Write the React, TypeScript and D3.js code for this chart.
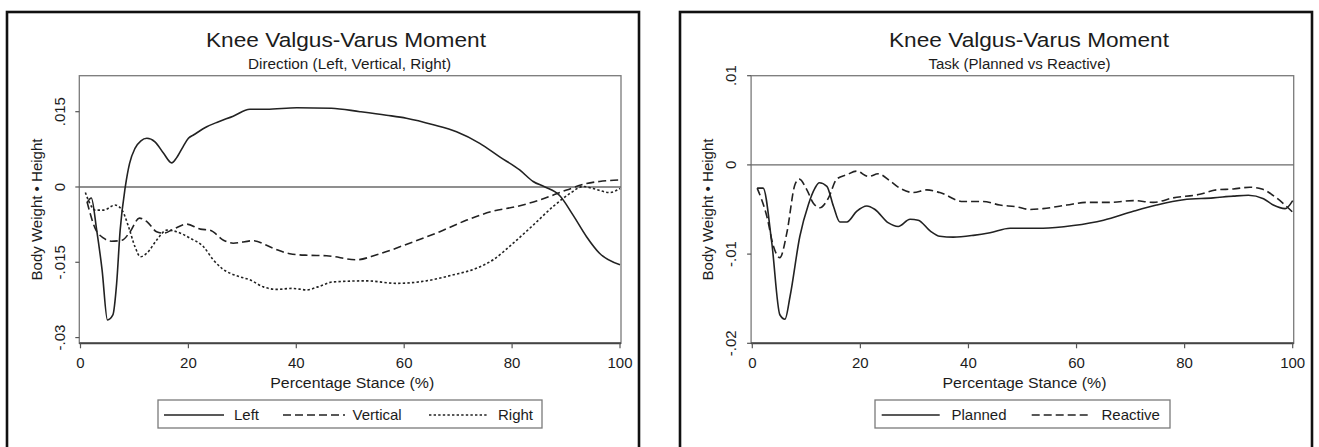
import React from 'react';
import * as d3 from 'd3';

// ---------- data ----------
const xTicks = [0, 20, 40, 60, 80, 100];

const dirYTicks = [0.015, 0, -0.015, -0.03];
const dirYTickLabels = ['.015', '0', '-.015', '-.03'];
const taskYTicks = [0.01, 0, -0.01, -0.02];
const taskYTickLabels = ['.01', '0', '-.01', '-.02'];

const dirSeriesNames = ['Left', 'Vertical', 'Right'];
const taskSeriesNames = ['Planned', 'Reactive'];

const leftX = [1.3, 2, 3, 4, 5, 6, 6.7, 7.35, 8.3, 9.1, 10.1, 11.2, 12.3, 13.8, 15.4, 16.9, 17.8, 19, 20, 21, 23.4, 25.6, 28.3, 31.4, 34.5, 40.1, 46.5, 51.8, 56.7, 60.4, 65.4, 69.7, 74, 77.7, 81.4, 83.9, 86.1, 88.8, 91.3, 93.8, 96.2, 100];
const leftY = [-0.003, -0.0022, -0.0086, -0.0165, -0.0265, -0.0255, -0.0192, -0.0086, 0.0, 0.0047, 0.0077, 0.0092, 0.0097, 0.009, 0.0067, 0.0048, 0.0058, 0.008, 0.0097, 0.0104, 0.012, 0.013, 0.0141, 0.0155, 0.0155, 0.0158, 0.0157, 0.015, 0.0143, 0.0137, 0.0124, 0.011, 0.0087, 0.006, 0.0034, 0.0011, 0.0, -0.0017, -0.0056, -0.0099, -0.0132, -0.0155];

const verticalX = [1.2, 2.7, 4.3, 5.7, 7.7, 9.2, 10.9, 12.3, 14.1, 15.4, 17.2, 19.7, 22.2, 24, 26.5, 28.3, 32, 35.7, 38.8, 42, 45.6, 51.2, 54.9, 61, 66.6, 71.6, 76.5, 80.8, 85.1, 90.1, 93.8, 96.2, 100];
const verticalY = [-0.0029, -0.0082, -0.0102, -0.0108, -0.0106, -0.0089, -0.0062, -0.0069, -0.0089, -0.0092, -0.0084, -0.0074, -0.0084, -0.0086, -0.0106, -0.0112, -0.0107, -0.0122, -0.0133, -0.0136, -0.0137, -0.0145, -0.0135, -0.0112, -0.0089, -0.0066, -0.0048, -0.0039, -0.0026, -0.0006, 0.0007, 0.0011, 0.0014];

const rightX = [0.9, 1.7, 2.7, 4.3, 6.4, 7.7, 8.9, 10.1, 11.1, 12.3, 14.1, 16, 17.8, 20.3, 22.8, 24.6, 26.2, 29.6, 31.4, 33.9, 36.4, 39.2, 42, 44, 46.9, 53, 58.6, 64.1, 69.1, 73.4, 76.5, 80.2, 83.9, 87.6, 90.7, 93.2, 95, 98.1, 100];
const rightY = [-0.0011, -0.0032, -0.0046, -0.0046, -0.0036, -0.0046, -0.0079, -0.0119, -0.0139, -0.0132, -0.0106, -0.0086, -0.0089, -0.0102, -0.0119, -0.0145, -0.0162, -0.0179, -0.0185, -0.0199, -0.0204, -0.0202, -0.0205, -0.0199, -0.0189, -0.0187, -0.0192, -0.0187, -0.0175, -0.0162, -0.0145, -0.0112, -0.0076, -0.0039, -0.0013, 0.0001, -0.0003, -0.0011, -0.0003];

const plannedX = [0.9, 2, 3.6, 5.1, 6.05, 7, 8.8, 10.4, 11.6, 12.4, 13.8, 15, 16.2, 17.5, 19.3, 21.2, 22.7, 25.2, 27, 29.2, 30.7, 32.9, 34.7, 37.2, 40.9, 44, 47.7, 53.8, 59.4, 65, 70.5, 74.8, 79.8, 85.3, 89, 91.8, 94.6, 96.4, 98.6, 100];
const plannedY = [-0.0026, -0.0026, -0.0087, -0.0168, -0.0173, -0.0147, -0.008, -0.0044, -0.0026, -0.002, -0.0024, -0.0046, -0.0064, -0.0064, -0.0052, -0.0046, -0.005, -0.0065, -0.0069, -0.0061, -0.0062, -0.0074, -0.008, -0.0081, -0.0079, -0.0076, -0.0071, -0.0071, -0.0068, -0.0062, -0.0052, -0.0045, -0.0039, -0.0037, -0.0035, -0.0034, -0.0038, -0.0045, -0.0049, -0.004];

const reactiveX = [0.9, 2.7, 3.9, 5.1, 6.4, 7.9, 8.7, 10.1, 11.3, 12.5, 14.1, 15.6, 17.5, 19.3, 21.5, 23.3, 25.5, 27.3, 29.8, 32.3, 34.7, 39, 42.7, 45.8, 48.9, 51.4, 53.8, 58.2, 61.9, 66.2, 70.5, 74.2, 77.9, 82.8, 85.9, 89, 92.1, 94.3, 97, 100];
const reactiveY = [-0.0026, -0.0058, -0.0091, -0.0104, -0.0076, -0.0022, -0.0016, -0.0028, -0.0043, -0.0048, -0.0037, -0.0016, -0.0011, -0.0007, -0.0013, -0.001, -0.0018, -0.0026, -0.0031, -0.0028, -0.0031, -0.0041, -0.0041, -0.0045, -0.0047, -0.005, -0.0049, -0.0045, -0.0042, -0.0042, -0.004, -0.0042, -0.0037, -0.0033, -0.0028, -0.0027, -0.0025, -0.0027, -0.0037, -0.0053];

// ---------- styles ----------
const FONT = '"Liberation Sans", Arial, Helvetica, sans-serif';
const INK = '#1c1c1c';
const LINE = '#222';
const FRAME = '#7a7a7a';
const DASHES = ['none', '8,4', '2.4,2.2'];

type Series = { name: string; xs: number[]; ys: number[]; dash: string };

type PanelCfg = {
  bx: number; bw: number;
  x0: number; x1: number;
  yTop: number; yBot: number;
  yDomain: [number, number];
  yTicks: number[]; yTickLabels: string[];
  title: string; titleX: number;
  subtitle: string; subtitleX: number; subtitleW: number;
  series: Series[];
  legend: { boxX: number; boxW: number; items: { lineX: number; lineW: number; textX: number }[] };
};

const Panel: React.FC<{ cfg: PanelCfg }> = ({ cfg }) => {
  const xs = d3.scaleLinear().domain([0, 100]).range([cfg.x0, cfg.x1]);
  const ys = d3.scaleLinear().domain(cfg.yDomain).range([cfg.yBot, cfg.yTop]);
  const line = d3
    .line<[number, number]>()
    .x((d) => xs(d[0]))
    .y((d) => ys(d[1]))
    .curve(d3.curveMonotoneX);
  const fx0 = cfg.x0 - 1.2;
  const fx1 = cfg.x1 + 1;
  const midX = (cfg.x0 + cfg.x1) / 2;
  const midY = (cfg.yTop + cfg.yBot) / 2;
  return (
    <g>
      {/* outer border */}
      <rect x={cfg.bx} y={12} width={cfg.bw} height={470} fill="#fff" stroke="#111" strokeWidth={2.6} />
      {/* titles */}
      <text x={cfg.titleX} y={46.5} textAnchor="middle" fontSize={20.5} fill={INK} fontFamily={FONT} textLength={280} lengthAdjust="spacingAndGlyphs">
        {cfg.title}
      </text>
      <text x={cfg.subtitleX} y={69} textAnchor="middle" fontSize={14} fill={INK} fontFamily={FONT} textLength={cfg.subtitleW} lengthAdjust="spacingAndGlyphs">
        {cfg.subtitle}
      </text>
      {/* plot frame */}
      <rect x={fx0} y={cfg.yTop} width={fx1 - fx0} height={cfg.yBot - cfg.yTop} fill="none" stroke={FRAME} strokeWidth={1.3} />
      <line x1={fx0} x2={fx1} y1={cfg.yBot} y2={cfg.yBot} stroke="#444" strokeWidth={2} />
      {/* zero line */}
      <line x1={fx0} x2={fx1} y1={ys(0)} y2={ys(0)} stroke="#6a6a6a" strokeWidth={1.3} />
      {/* y ticks */}
      {cfg.yTicks.map((t, i) => (
        <g key={'y' + i}>
          <line x1={fx0 - 4} x2={fx0} y1={ys(t)} y2={ys(t)} stroke="#555" strokeWidth={1.2} />
          <text
            transform={`translate(${fx0 - 20},${ys(t)}) rotate(-90)`}
            textAnchor="middle"
            dy="0.35em"
            fontSize={15}
            fill={INK}
            fontFamily={FONT}
          >
            {cfg.yTickLabels[i]}
          </text>
        </g>
      ))}
      {/* x ticks */}
      {xTicks.map((t) => (
        <g key={'x' + t}>
          <line x1={xs(t)} x2={xs(t)} y1={cfg.yBot} y2={cfg.yBot + 5} stroke="#555" strokeWidth={1.2} />
          <text x={xs(t)} y={367.5} textAnchor="middle" fontSize={15} fill={INK} fontFamily={FONT}>
            {t}
          </text>
        </g>
      ))}
      {/* axis titles */}
      <text x={midX + 2} y={387.5} textAnchor="middle" fontSize={15.5} fill={INK} fontFamily={FONT} textLength={164} lengthAdjust="spacingAndGlyphs">
        Percentage Stance (%)
      </text>
      <text
        transform={`translate(${fx0 - 43},${midY}) rotate(-90)`}
        textAnchor="middle"
        dy="0.35em"
        fontSize={15}
        fill={INK}
        fontFamily={FONT}
        textLength={142}
        lengthAdjust="spacingAndGlyphs"
      >
        Body Weight • Height
      </text>
      {/* series */}
      {cfg.series.map((s) => (
        <path
          key={s.name}
          d={line(s.xs.map((x, i) => [x, s.ys[i]] as [number, number])) || ''}
          fill="none"
          stroke={LINE}
          strokeWidth={1.6}
          strokeDasharray={s.dash}
        />
      ))}
      {/* legend */}
      <rect x={cfg.legend.boxX} y={400} width={cfg.legend.boxW} height={28} fill="#fff" stroke={FRAME} strokeWidth={1.3} />
      {cfg.series.map((s, i) => {
        const it = cfg.legend.items[i];
        return (
          <g key={'lg' + s.name}>
            <line x1={it.lineX} x2={it.lineX + it.lineW} y1={415} y2={415} stroke={LINE} strokeWidth={1.6} strokeDasharray={s.dash} />
            <text x={it.textX} y={419.5} fontSize={15} fill={INK} fontFamily={FONT}>
              {s.name}
            </text>
          </g>
        );
      })}
    </g>
  );
};

const dirSeriesData = [
  [leftX, leftY],
  [verticalX, verticalY],
  [rightX, rightY],
];
const taskSeriesData = [
  [plannedX, plannedY],
  [reactiveX, reactiveY],
];

const leftPanel: PanelCfg = {
  bx: 7, bw: 632,
  x0: 80.5, x1: 620,
  yTop: 75.7, yBot: 343.3,
  yDomain: [-0.03114, 0.02217],
  yTicks: dirYTicks, yTickLabels: dirYTickLabels,
  title: 'Knee Valgus-Varus Moment', titleX: 346,
  subtitle: 'Direction (Left, Vertical, Right)', subtitleX: 349.5, subtitleW: 203,
  series: dirSeriesNames.map((n, i) => ({ name: n, xs: dirSeriesData[i][0], ys: dirSeriesData[i][1], dash: DASHES[i] })),
  legend: {
    boxX: 158, boxW: 384,
    items: [
      { lineX: 164, lineW: 60, textX: 234 },
      { lineX: 283, lineW: 62, textX: 352.5 },
      { lineX: 429, lineW: 58, textX: 498 },
    ],
  },
};

const rightPanel: PanelCfg = {
  bx: 680, bw: 632,
  x0: 752.3, x1: 1292.7,
  yTop: 75.7, yBot: 343.3,
  yDomain: [-0.02, 0.01],
  yTicks: taskYTicks, yTickLabels: taskYTickLabels,
  title: 'Knee Valgus-Varus Moment', titleX: 1029,
  subtitle: 'Task (Planned vs Reactive)', subtitleX: 1019.5, subtitleW: 182,
  series: taskSeriesNames.map((n, i) => ({ name: n, xs: taskSeriesData[i][0], ys: taskSeriesData[i][1], dash: DASHES[i] })),
  legend: {
    boxX: 875, boxW: 295,
    items: [
      { lineX: 881.7, lineW: 58, textX: 951.5 },
      { lineX: 1031.7, lineW: 58, textX: 1101.5 },
    ],
  },
};

export default function App() {
  return (
    <svg
      width={1319}
      height={447}
      viewBox="0 0 1319 447"
      style={{ position: 'absolute', left: 0, top: 0, background: '#fff', display: 'block' }}
    >
      <rect x={0} y={0} width={1319} height={447} fill="#fff" />
      <Panel cfg={leftPanel} />
      <Panel cfg={rightPanel} />
    </svg>
  );
}
